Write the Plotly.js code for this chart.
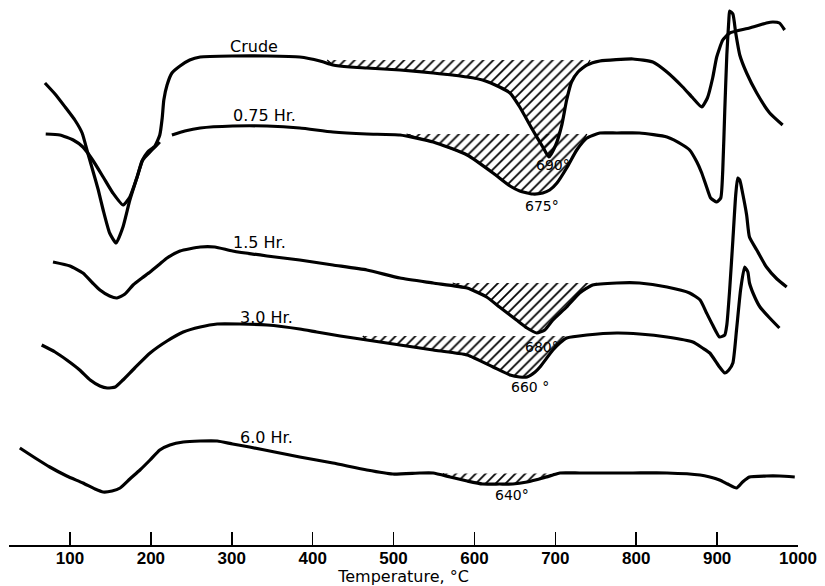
<!DOCTYPE html>
<html>
<head>
<meta charset="utf-8">
<script src="https://cdn.plot.ly/plotly-3.0.1.min.js"></script>
<style>html,body{margin:0;padding:0;background:#fff;}#chart{width:825px;height:586px;}</style>
</head>
<body>
<div id="chart"></div>
<script>
// Temperature (°C) and DTA deflection (arbitrary units)
const tempCrude = [69,81.5,94,106,115,122,128,135,141,149,157,165.5,174,183,189,196,205,211,214,216,220,226,236,248,261,301,343.5,384,409,425,446,467,508,549,591,610,631,644,656,672,684.5,692,700.5,708,714,720,728,739,755,796,820.5,838,857.5,870,881,888,894.5,899.5,907,915.5,940,961,969,977,983.5];
const dtaCrude  = [462,451,438,425,412,392,375,355,335,312,302,318,345,368,384,393,399,410,427,445,460,472,479,485,488,489,489,488,484,480,478,477,475,472,468,465,458,452,438,415,398,388,400,420,445,463,473,480,484,486,483,473,458,447,438,447,467,488,505,512,517,522,523,522,515];

const temp075 = [70,87.5,104,116,128,141,153,165.5,174,183,190,199,207.5,211,null,226,242,261,301,343.5,384,425,467,508,549,591,623,644,656,672,684.5,693,702,714,726.5,739,755,776,804,838,857.5,866,875,881,887,892,899.5,904.5,907,909.5,912,914.5,915.5,919.5,923,928,936.5,949,965,981];
const dta075  = [411,410,405,398,385,368,352,340,348,368,385,393,400,403,null,410,414,417,419,419,417,413,411,410,403,390,372,359,354,351,352,355,362,377,395,407,412,412,412,408,400,395,383,372,358,347,343,347,375,435,490,525,534,531,512,490,472,452,432,420];

const temp15 = [79,100,116,128,137,149,158,168,178,189,199,211,220,236,261,279,301,343.5,384,425,467,508,549,591,615,631,652,665,677,687,697,714,730,746,776,804,838,866,879,887,894.5,903,909.5,912,915.5,919.5,923,925.5,928,931.5,936.5,940,949,961,974,986];
const dta15  = [283,279,272,262,255,249,247,251,260,267,273,281,287,294,298,298,294,289,285,280,275,267,262,257,248,238,225,217,212,215,225,238,252,260,262,262,258,252,245,232,220,208,210,220,255,305,350,367,365,352,330,308,295,278,266,258];

const temp30 = [65,81.5,96,112,125,137,146,156,165.5,180,199,220,240,261,282,310,343.5,384,405,434,467,508,549,591,623,644,656,665,675,681,697,705.5,714,739,776,804,838,870,882,891,903,909.5,914.5,919.5,924,929,934,938,940,946.5,953,965,977];
const dta30  = [200,193,185,175,165,159,157,158,165,177,192,204,213,218,221,221,220,216,213,209,205,200,195,190,178,170,168,168,173,178,195,202,207,210,212,211,208,203,197,192,178,172,175,182,215,255,278,273,262,248,238,227,217];

const temp60 = [38,57,75,96,116,131,141,152,162,174,186.5,199,211,223.5,240,261,282,301,322,353,384,425,467,499,532.5,549,570,591,610,631,647.5,665,684.5,697,705.5,730,755,796,838,879,891,903,913,924,931.5,940,961,977,996];
const dta60  = [97,87,78,69,62,56,53,54,57,66,75,85,95,100,103,104,104,101,98,93,88,82,75,71,72,72,68,64,61,61,61,63,67,70,72,72,72,72,72,70,68,65,61,57,63,68,69,69,68];

// Hatched peak areas: start / end temperature and baseline level
const hatchNames = ["Crude","0.75 Hr.","1.5 Hr.","3.0 Hr.","6.0 Hr."];
const hatchStart = [418,516,573,462,561];
const hatchEnd   = [743,739,751,726.5,699];
const hatchBase  = [485,411,262,209,71.5];

// Curve labels
const labelText = ["Crude","0.75 Hr.","1.5 Hr.","3.0 Hr.","6.0 Hr."];
const labelTemp = [327,340,334,343.5,343.5];
const labelDta  = [499,430,303,228,108];

// Peak temperature labels
const peakText = ["690°","675°","680°","660 °","640°"];
const peakTemp = [697,683,683,668.5,646];
const peakDta  = [380,339,198,158,50];

const tickVals = [100,200,300,400,500,600,700,800,900,1000];
const tickText = ["100","200","300","400","500","600","700","800","900","1000"];

const series = [[tempCrude,dtaCrude],[temp075,dta075],[temp15,dta15],[temp30,dta30],[temp60,dta60]];

const traces = [];
series.forEach((s,i) => {
  const xs = [hatchStart[i]], ys = [hatchBase[i]];
  s[0].forEach((t,j) => {
    if (t !== null && t > hatchStart[i] && t < hatchEnd[i]) { xs.push(t); ys.push(s[1][j]); }
  });
  xs.push(hatchEnd[i]); ys.push(hatchBase[i]);
  traces.push({
    x: xs, y: ys, type: 'scatter', mode: 'lines', fill: 'toself',
    fillcolor: 'rgba(255,255,255,0)',
    fillpattern: {shape: '/', size: 7, solidity: 0.25, fgcolor: '#000', bgcolor: 'rgba(255,255,255,0)'},
    line: {color: '#000', width: 1.3}, hoverinfo: 'skip', showlegend: false
  });
});
series.forEach((s,i) => {
  traces.push({
    x: s[0], y: s[1], type: 'scatter', mode: 'lines', name: labelText[i],
    connectgaps: false,
    line: {color: '#000', width: 3.2, shape: 'spline', smoothing: 0.5},
    showlegend: false
  });
});

const annotations = [];
labelText.forEach((t,i) => annotations.push({
  x: labelTemp[i], y: labelDta[i], text: t, showarrow: false,
  font: {family: 'DejaVu Sans', size: 16, color: '#000'}
}));
peakText.forEach((t,i) => annotations.push({
  x: peakTemp[i], y: peakDta[i], text: t, showarrow: false,
  font: {family: 'DejaVu Sans', size: 14, color: '#000'}
}));

const layout = {
  width: 825, height: 586,
  margin: {l: 9, r: 27, t: 0, b: 41},
  paper_bgcolor: '#fff', plot_bgcolor: '#fff',
  showlegend: false,
  xaxis: {
    range: [24.6, 1000], tickvals: tickVals, ticktext: tickText,
    ticks: 'inside', ticklen: 13, tickwidth: 1.5, tickcolor: '#000',
    showline: true, linecolor: '#000', linewidth: 2,
    showgrid: false, zeroline: false, automargin: false,
    ticklabelstandoff: -3,
    tickfont: {family: 'Liberation Sans', size: 17, weight: 'bold', color: '#000'},
    title: {text: 'Temperature, °C', font: {family: 'DejaVu Sans', size: 16, color: '#000'}, standoff: 2}
  },
  yaxis: {range: [0, 545], visible: false, showgrid: false, zeroline: false},
  annotations: annotations
};

Plotly.newPlot('chart', traces, layout, {displayModeBar: false, staticPlot: true});
</script>
</body>
</html>
